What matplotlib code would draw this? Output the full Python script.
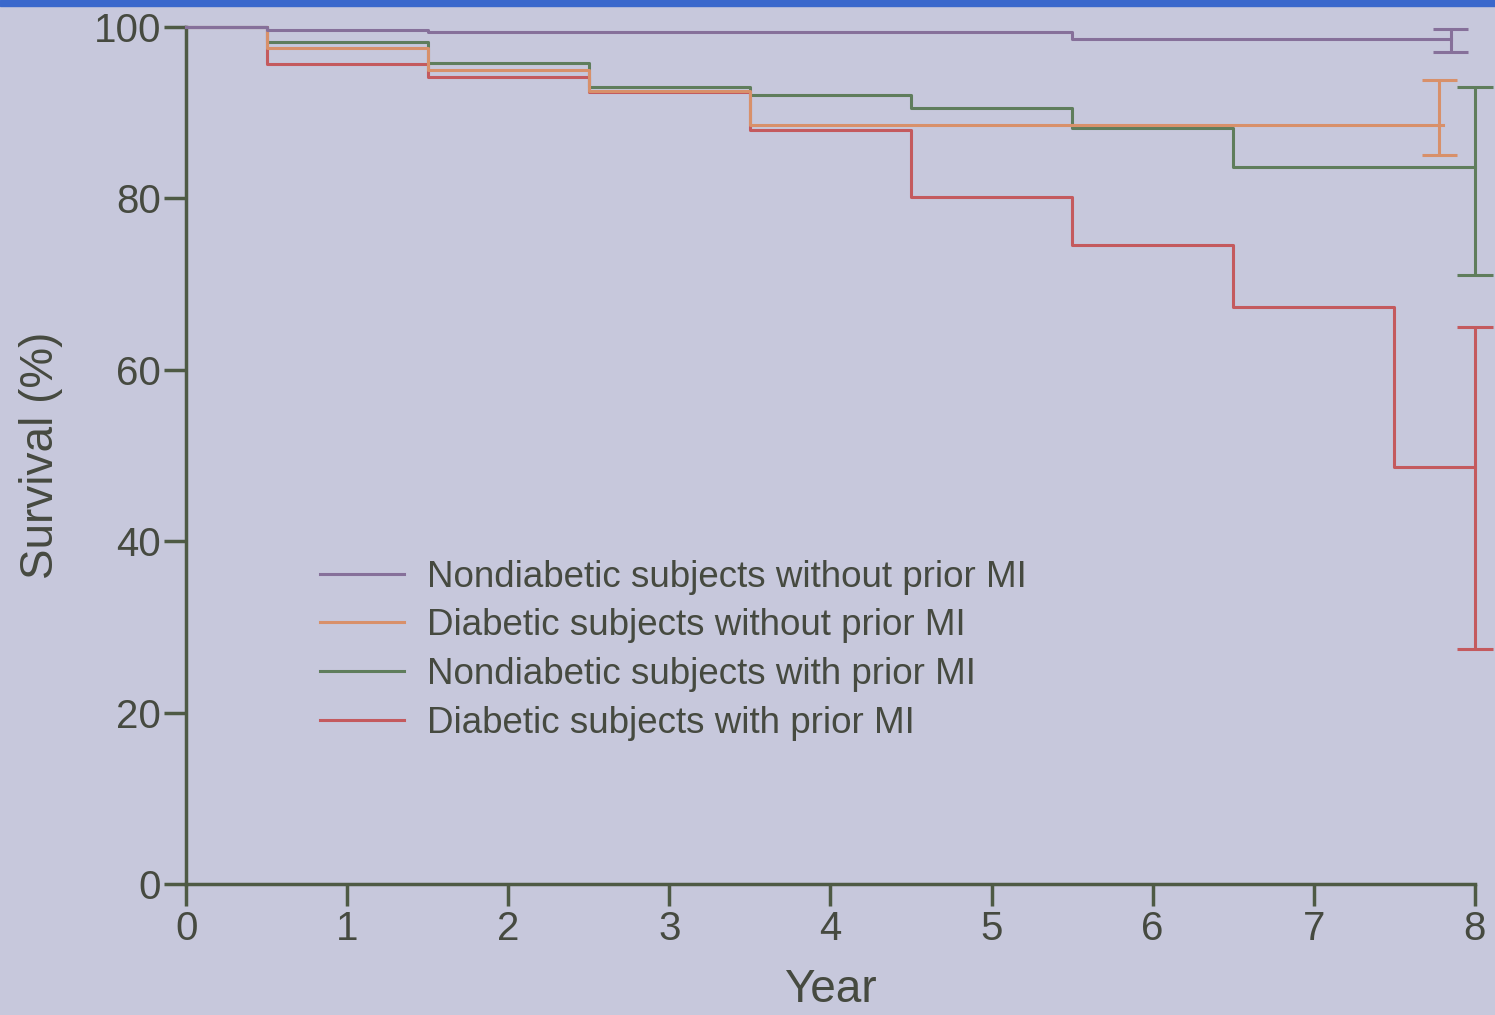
import matplotlib.pyplot as plt

# Kaplan-Meier survival, 8-year follow-up
years_nd_nomi = [0, 0.5, 1.5, 5.5, 7.85]
surv_nd_nomi = [100, 99.6, 99.4, 98.6, 98.6]

years_d_nomi = [0, 0.5, 1.5, 2.5, 3.5, 7.8]
surv_d_nomi = [100, 97.5, 95.0, 92.5, 88.6, 88.6]

years_nd_mi = [0, 0.5, 1.5, 2.5, 3.5, 4.5, 5.5, 6.5, 8.0]
surv_nd_mi = [100, 98.2, 95.8, 93.0, 92.1, 90.5, 88.2, 83.7, 83.7]

years_d_mi = [0, 0.5, 1.5, 2.5, 3.5, 4.5, 5.5, 6.5, 7.5, 8.0]
surv_d_mi = [100, 95.7, 94.1, 92.4, 88.0, 80.1, 74.6, 67.3, 48.6, 48.6]

# 95% CI at the end of follow-up: (x, low, high)
ci_nd_nomi = (7.85, 97.1, 99.7)
ci_d_nomi = (7.78, 85.0, 93.8)
ci_nd_mi = (8.0, 71.0, 93.0)
ci_d_mi = (8.0, 27.4, 65.0)

labels = ["Nondiabetic subjects without prior MI",
          "Diabetic subjects without prior MI",
          "Nondiabetic subjects with prior MI",
          "Diabetic subjects with prior MI"]
colors = ["#86709a", "#d8906a", "#5f7d5c", "#c45a5e"]

bg = "#c7c8dc"
ink = "#464a40"
axis_col = "#4e5a44"

plt.rcParams['font.family'] = ['Liberation Sans', 'DejaVu Sans']

fig = plt.figure(figsize=(14.95, 10.15), dpi=100, facecolor=bg)
ax = fig.add_axes([0.1245, 0.129, 0.862, 0.8445])
ax.set_facecolor(bg)

# blue strip along the top edge
fig.patches.append(plt.Rectangle((0, 0.994), 1, 0.006, transform=fig.transFigure,
                                 color="#3a68cc", zorder=10))

series = [(years_nd_nomi, surv_nd_nomi, ci_nd_nomi),
          (years_d_nomi, surv_d_nomi, ci_d_nomi),
          (years_nd_mi, surv_nd_mi, ci_nd_mi),
          (years_d_mi, surv_d_mi, ci_d_mi)]

for i, ((xs, ys, ci), c, lab) in enumerate(zip(series, colors, labels)):
    z = 5 - i
    ax.step(xs, ys, where='post', color=c, lw=2.2, label=lab, clip_on=False, zorder=z)
    x, lo, hi = ci
    ax.vlines(x, lo, hi, color=c, lw=2.2, clip_on=False, zorder=z)
    ax.hlines([lo, hi], x - 0.11, x + 0.11, color=c, lw=2.2, clip_on=False, zorder=z)

ax.set_xlim(0, 8)
ax.set_ylim(0, 100)
ax.set_xticks(range(0, 9))
ax.set_yticks(range(0, 101, 20))
for s in ['top', 'right']:
    ax.spines[s].set_visible(False)
for s in ['left', 'bottom']:
    ax.spines[s].set_color(axis_col)
    ax.spines[s].set_linewidth(2.5)
ax.tick_params(axis='both', colors=axis_col, labelcolor=ink, labelsize=29,
               width=2.5, length=16, direction='out')
ax.tick_params(axis='x', pad=3)
ax.tick_params(axis='y', pad=2)

ax.set_xlabel("Year", fontsize=33, color=ink, labelpad=14)
ax.set_ylabel("Survival (%)", fontsize=33, color=ink, labelpad=22)

leg = ax.legend(loc='upper left', bbox_to_anchor=(0.078, 0.417), frameon=False,
                fontsize=26.5, handlelength=2.3, handletextpad=0.6,
                labelspacing=0.37, labelcolor=ink)

fig.savefig("out.png", dpi=100, facecolor=bg)
